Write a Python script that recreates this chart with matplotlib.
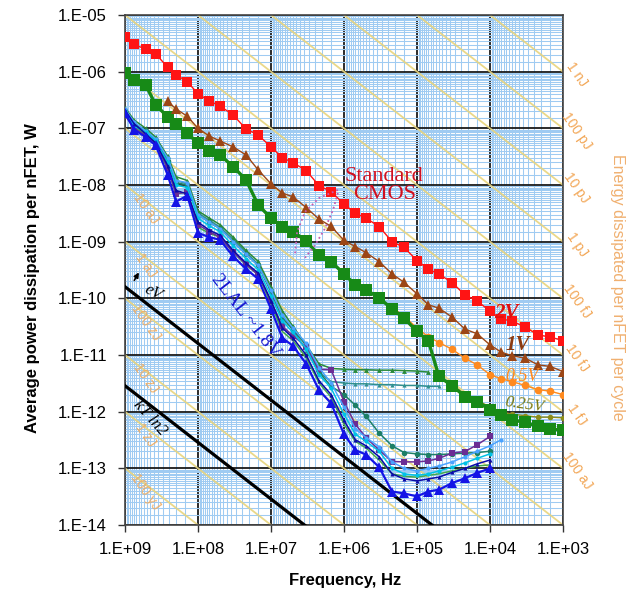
import numpy as np
import matplotlib
matplotlib.use("Agg")
import matplotlib.pyplot as plt
from matplotlib.ticker import FixedLocator, LogLocator, NullFormatter

plt.rcParams['font.family'] = ['Liberation Sans', 'DejaVu Sans']

# measurement frequencies, Hz (shared by every curve)
freq = [1e9, 7.5e8, 5.2e8, 3.8e8, 2.6e8, 2e8, 1.4e8,
        1e8, 7e7, 5e7, 3.3e7, 2.2e7, 1.5e7,
        1e7, 7e6, 5e6, 3.3e6, 2.2e6, 1.5e6,
        1e6, 7e5, 5e5, 3.3e5, 2.2e5, 1.5e5,
        1e5, 7e4, 5e4, 3.3e4, 2.2e4, 1.5e4,
        1e4, 7e3, 5e3, 3.3e3, 2.2e3, 1.5e3, 1e3]

# standard CMOS, power per nFET (W)
p_2v = [4.05e-6, 3.04e-6, 2.48e-6, 2.05e-6, 1.2e-6, 8.75e-7, 6.67e-7, 4.05e-7,
        3.04e-7, 2.48e-7, 1.72e-7, 9.75e-8, 7.66e-8, 4.7e-8, 3.04e-8, 2.48e-8,
        1.8e-8, 9.75e-9, 7.66e-9, 4.58e-9, 3.18e-9, 2.6e-9, 1.85e-9, 1.0e-9,
        7.9e-10, 4.65e-10, 3.27e-10, 2.67e-10, 1.9e-10, 1.14e-10, 9.0e-11,
        5.94e-11, 4.3e-11, 4.0e-11, 3.1e-11, 2.27e-11, 2.07e-11, 1.8e-11]
p_1v = [2.98e-7, 2.2e-7, 1.63e-7, 1.0e-7, 7.3e-8, 6.0e-8, 4.7e-8, 3.4e-8,
        1.85e-8, 1.05e-8, 7.2e-9, 6.2e-9, 4.0e-9, 2.5e-9, 1.86e-9, 1.05e-9,
        8.2e-10, 6.4e-10, 4.46e-10, 2.7e-10, 1.91e-10, 1.2e-10, 7.7e-11,
        6.7e-11, 4.65e-11, 2.86e-11, 2.37e-11, 1.51e-11, 1.12e-11, 9.7e-12,
        8.8e-12, 6.7e-12, 6.3e-12, 5.1e-12]
p_green = [9.5e-7, 7.15e-7, 5.8e-7, 2.6e-7, 1.59e-7, 1.21e-7, 8.3e-8, 5.4e-8,
           3.96e-8, 3.4e-8, 2.11e-8, 1.23e-8, 4.46e-9, 2.6e-9, 1.85e-9, 1.51e-9,
           1.03e-9, 5.73e-10, 4.46e-10, 2.69e-10, 1.73e-10, 1.41e-10, 1.02e-10,
           6.5e-11, 4.48e-11, 2.6e-11, 1.78e-11, 4.18e-12, 2.86e-12, 1.85e-12,
           1.51e-12, 1.08e-12, 8.8e-13, 7.2e-13, 6.45e-13, 5.5e-13, 5.0e-13,
           4.66e-13]
p_05v = [7e-11, 4.8e-11, 3.0e-11, 2.1e-11, 1.66e-11, 1.26e-11, 8.75e-12,
         6.7e-12, 4.5e-12, 3.8e-12, 3.4e-12, 2.9e-12, 2.45e-12, 2.3e-12, 2.0e-12]
p_025v = [3e-12, 2e-12, 1.6e-12, 1.2e-12, 1.0e-12, 9e-13, 8.5e-13, 8e-13,
          8e-13, 7.8e-13]

# 2LAL runs (~1.8 V)
lal_blue = [1.87e-7, 9.5e-8, 7.0e-8, 5.0e-8, 1.5e-8, 5.1e-9, 6.5e-9, 1.43e-9,
            1.2e-9, 1.08e-9, 5.5e-10, 3.3e-10, 2.2e-10, 6.5e-11, 2.0e-11,
            1.45e-11, 7e-12, 2.4e-12, 1.4e-12, 4.0e-13, 2.1e-13, 1.75e-13,
            1.05e-13, 3.9e-14, 3.6e-14, 3.2e-14, 3.9e-14, 4.2e-14, 5.5e-14,
            6.7e-14, 8.3e-14, 1.0e-13]
lal_navy = [2.1e-7, 1.2e-7, 8e-8, 5.5e-8, 2.2e-8, 8e-9, 7e-9, 2.2e-9, 1.6e-9,
            1.3e-9, 7e-10, 4.2e-10, 2.8e-10, 9e-11, 3e-11, 2e-11, 1e-11,
            3.5e-12, 2e-12, 7e-13, 3.2e-13, 2.5e-13, 1.6e-13, 8e-14, 6.5e-14,
            6e-14, 6.5e-14, 7e-14, 8.5e-14, 1.0e-13, 1.2e-13, 1.4e-13]
lal_cyan = [2.0e-7, 1.1e-7, 8.5e-8, 6e-8, 2.5e-8, 1e-8, 9e-9, 2.6e-9, 1.9e-9,
            1.5e-9, 8.5e-10, 5e-10, 3.2e-10, 1.1e-10, 4e-11, 2.5e-11, 1.3e-11,
            4.5e-12, 2.6e-12, 9e-13, 4e-13, 3e-13, 2e-13, 1e-13, 8e-14, 7.5e-14,
            8e-14, 9e-14, 1.05e-13, 1.25e-13, 1.5e-13, 1.8e-13]
lal_sky = [2.2e-7, 1.3e-7, 9e-8, 6.5e-8, 3e-8, 1.2e-8, 1.1e-8, 3e-9, 2.2e-9,
           1.7e-9, 1e-9, 6e-10, 3.8e-10, 1.4e-10, 5e-11, 3e-11, 1.6e-11, 6e-12,
           3.2e-12, 1.2e-12, 5e-13, 3.5e-13, 2.4e-13, 1.3e-13, 1.0e-13, 9e-14,
           1e-13, 1.1e-13, 1.3e-13, 1.6e-13, 2e-13, 2.5e-13, 3.2e-13]
lal_purple = [1.7e-7, 1.0e-7, 7.5e-8, 5.5e-8, 2e-8, 7e-9, 7.5e-9, 2e-9, 1.5e-9,
              1.2e-9, 6.5e-10, 4e-10, 2.6e-10, 9e-11, 3.2e-11, 2.2e-11, 1.4e-11,
              5.6e-12, 5.5e-12, 1.5e-12, 6e-13, 3.5e-13, 2.1e-13, 1.32e-13,
              1.3e-13, 1.3e-13, 1.35e-13, 1.5e-13, 1.86e-13, 1.98e-13, 2.6e-13,
              3.65e-13]
lal_green = [2.3e-7, 1.4e-7, 1e-7, 7e-8, 3.2e-8, 1.4e-8, 1.2e-8, 3.5e-9, 2.6e-9,
             2e-9, 1.2e-9, 7e-10, 4.5e-10, 1.6e-10, 6e-11, 3.2e-11, 1.5e-11,
             7e-12, 5.8e-12, 5.6e-12, 5.5e-12, 5.5e-12, 5.4e-12, 5.4e-12,
             5.3e-12, 5.2e-12, 5.0e-12]
lal_teal = [2.1e-7, 1.25e-7, 9e-8, 6.5e-8, 2.8e-8, 1.2e-8, 1.05e-8, 3.2e-9,
            2.4e-9, 1.8e-9, 1.1e-9, 6.5e-10, 4e-10, 1.4e-10, 5e-11, 2.8e-11,
            1.2e-11, 5e-12, 3.4e-12, 3.2e-12, 3.1e-12, 3.1e-12, 3.0e-12, 3.0e-12,
            2.9e-12, 2.9e-12, 2.8e-12, 2.8e-12]
lal_dkgreen = [2.0e-7, 1.2e-7, 9e-8, 6e-8, 2.6e-8, 1.1e-8, 1e-8, 3e-9, 2.2e-9,
               1.7e-9, 1e-9, 6e-10, 3.8e-10, 1.3e-10, 4.5e-11, 2.8e-11, 1.5e-11,
               5e-12, 2.8e-12, 2e-12, 1.3e-12, 8.3e-13, 4.2e-13, 2.5e-13,
               1.9e-13, 1.8e-13, 1.75e-13, 1.75e-13, 1.8e-13, 1.85e-13, 1.9e-13,
               2.0e-13]
lal_ltgreen = [1.9e-7, 1.05e-7, 7.8e-8, 5.4e-8, 1.9e-8, 7e-9, 7.5e-9, 1.8e-9,
               1.4e-9, 1.2e-9, 6.5e-10, 3.9e-10, 2.6e-10, 8e-11, 2.6e-11, 1.8e-11,
               9e-12, 3.2e-12, 1.8e-12, 6e-13, 3e-13, 2.3e-13, 1.4e-13, 8e-14,
               7.2e-14, 7e-14, 7.5e-14, 8e-14, 9e-14, 1e-13, 1.1e-13, 1.15e-13]

# energy-per-cycle guide lines, J
energy = [1e-9, 1e-10, 1e-11, 1e-12, 1e-13, 1e-14, 1e-15, 1e-16,
          1e-17, 1e-18, 1e-19, 1e-20, 1e-21, 1e-22]
energy_right = ['1 nJ', '100 pJ', '10 pJ', '1 pJ', '100 fJ', '10 fJ', '1 fJ', '100 aJ']
energy_left = ['10 aJ', '1 aJ', '100 zJ', '10 zJ', '1 zJ', '100 yJ']
e_ev = 1.602e-19
e_ktln2 = 1.381e-23 * 300 * np.log(2)

fig = plt.figure(figsize=(6.27, 5.96), dpi=100)
ax = fig.add_axes([125 / 627, 71 / 596, 438 / 627, 510 / 596])
ax.set_xscale('log')
ax.set_yscale('log')
ax.set_xlim(1e9, 1e3)
ax.set_ylim(1e-14, 1e-5)

# grid: dense light-blue minor, black decades
ax.xaxis.set_minor_locator(LogLocator(base=10, subs=np.arange(1.5, 10, 0.5), numticks=20))
ax.yaxis.set_minor_locator(LogLocator(base=10, subs=np.arange(1.5, 10, 0.5), numticks=20))
ax.xaxis.set_minor_formatter(NullFormatter())
ax.yaxis.set_minor_formatter(NullFormatter())
ax.grid(which='minor', color='#9fcbf2', lw=0.75, zorder=0)
ax.grid(which='major', color='#1a1a1a', lw=1.3, zorder=0.5)
ax.set_axisbelow(True)

xt = [1e9, 1e8, 1e7, 1e6, 1e5, 1e4, 1e3]
ax.xaxis.set_major_locator(FixedLocator(xt))
ax.set_xticklabels(['1.E+%02d' % int(round(np.log10(v))) for v in xt], fontsize=12)
yt = [10.0 ** k for k in range(-14, -4)]
ax.yaxis.set_major_locator(FixedLocator(yt))
ax.set_yticklabels(['1.E-%02d' % -int(round(np.log10(v))) for v in yt], fontsize=12)
ax.tick_params(which='major', direction='out', length=5, width=1, color='#333333', pad=7)
ax.tick_params(which='minor', length=0)
ax.tick_params(axis='y', pad=8)
for s in ax.spines.values():
    s.set_color('#444444')
    s.set_linewidth(1.2)

# constant-energy diagonals
f_edge = np.array([1e9, 1e3])
for e in energy:
    ax.plot(f_edge, e * f_edge, color='#e8d47c', lw=1.3, alpha=0.9, zorder=1)
for e, lab in zip(energy[:8], energy_right):
    ax.annotate(lab, xy=(1e3, e * 1e3), xytext=(10, -2), textcoords='offset points',
                fontsize=10, color='#f2a655', rotation=-55, ha='center', va='center',
                annotation_clip=False)
for e, lab in zip(energy[8:], energy_left):
    ax.annotate(lab, xy=(1e9, e * 1e9), xytext=(15, -17), textcoords='offset points',
                fontsize=10, color='#f0aa5c', rotation=-55, ha='center', va='center',
                alpha=0.9)

# single-electron-volt and Landauer limits
ax.plot(f_edge, e_ev * f_edge, color='black', lw=2.3, zorder=3)
ax.plot(f_edge, e_ktln2 * f_edge, color='black', lw=2.3, zorder=3)
ax.text(0.063, 0.455, 'eV', transform=ax.transAxes, fontsize=12, family='Liberation Serif',
        style='italic', rotation=-28, ha='center', va='center', zorder=6)
ax.annotate('', xy=(0.035, 0.50), xytext=(0.018, 0.475), xycoords='axes fraction',
            arrowprops=dict(arrowstyle='-|>', color='black', lw=1.2, mutation_scale=7))
ax.text(0.058, 0.21, 'kT ln2', transform=ax.transAxes, fontsize=12, family='Liberation Serif',
        style='italic', rotation=-48, ha='center', va='center', zorder=6)

# 2LAL family
cluster = [
    (lal_ltgreen, '#43a84a', None, 0),
    (lal_teal, '#2f8f8f', '^', 3),
    (lal_green, '#2a8a3a', '^', 3.5),
    (lal_dkgreen, '#1d7f66', 'o', 4),
    (lal_purple, '#6b2d94', 's', 4),
    (lal_sky, '#4aa3ff', 'o', 3),
    (lal_cyan, '#00c2e6', 'o', 3),
    (lal_navy, '#0a0aa8', '^', 3),
]
for vals, col, mk, ms in cluster:
    ax.plot(freq[:len(vals)], vals, color=col, lw=1.1, marker=mk, ms=ms,
            markeredgewidth=0, zorder=4)
ax.plot(freq[:len(lal_blue)], lal_blue, color='#1414e6', lw=1.6, marker='^', ms=6.5,
        markeredgewidth=0, zorder=5)

# CMOS curves
ax.plot(freq, p_green, color='#178a17', lw=2.4, marker='s', ms=8.5, markeredgewidth=0, zorder=5)
ax.plot(freq[28:], p_025v, color='#8c8c1a', lw=1, marker='o', ms=4, markeredgewidth=0, zorder=4.5)
ax.plot(freq[23:], p_05v, color='#ff8a1f', lw=1, marker='o', ms=5.5, markeredgewidth=0, zorder=4.5)
ax.plot(freq[4:], p_1v, color='#9c4616', lw=1, marker='^', ms=6.5, markeredgewidth=0, zorder=5)
ax.plot(freq, p_2v, color='#ff1414', lw=1, marker='s', ms=6.5, markeredgewidth=0, zorder=5)

serif = 'Liberation Serif'
ax.text(6.0e3, 5.5e-11, '2V', color='#e01010', fontsize=15, family=serif, style='italic',
        fontweight='bold', ha='center', va='center', zorder=7)
ax.text(4.2e3, 1.5e-11, '1V', color='#8b3a10', fontsize=15, family=serif, style='italic',
        fontweight='bold', ha='center', va='center', zorder=7)
ax.text(3.6e3, 4.2e-12, '0.5V', color='#ff8a1f', fontsize=13, family=serif, style='italic',
        ha='center', va='center', zorder=7)
ax.text(3.4e3, 1.3e-12, '0.25V', color='#7a7a10', fontsize=12, family=serif, style='italic',
        rotation=-8, ha='center', va='center', zorder=7)
ax.text(0.592, 0.665, 'Standard\nCMOS', transform=ax.transAxes, color='#d01020',
        fontsize=16, family=serif, ha='center', va='center', linespacing=0.95, zorder=7)
ax.text(0.275, 0.41, '2LAL ~1.8V', transform=ax.transAxes, color='#1515d0', fontsize=14,
        family=serif, rotation=-52, ha='center', va='center', zorder=7)

# dotted bracket pointing at the CMOS curves
bx1 = [0.486, 0.443, 0.411, 0.393, 0.388]
by1 = [0.657, 0.641, 0.614, 0.575, 0.529]
bx2 = [0.486, 0.475, 0.457, 0.434, 0.411]
by2 = [0.651, 0.618, 0.582, 0.549, 0.524]
ax.plot(bx1, by1, transform=ax.transAxes, color='#c45cb0', ls=':', lw=1.3, zorder=6)
ax.plot(bx2, by2, transform=ax.transAxes, color='#c45cb0', ls=':', lw=1.3, zorder=6)

fig.text(33 / 627, 1 - 278 / 596, 'Average power dissipation per nFET, W', rotation=90,
         fontsize=12, fontweight='bold', ha='center', va='center')
fig.text(345 / 627, 1 - 580 / 596, 'Frequency, Hz', fontsize=12, fontweight='bold',
         ha='center', va='center')
fig.text(618 / 627, 1 - 287 / 596, 'Energy dissipated per nFET per cycle', rotation=270,
         fontsize=11.5, color='#f0b070', ha='center', va='center')

fig.savefig('out.png', dpi=100)
